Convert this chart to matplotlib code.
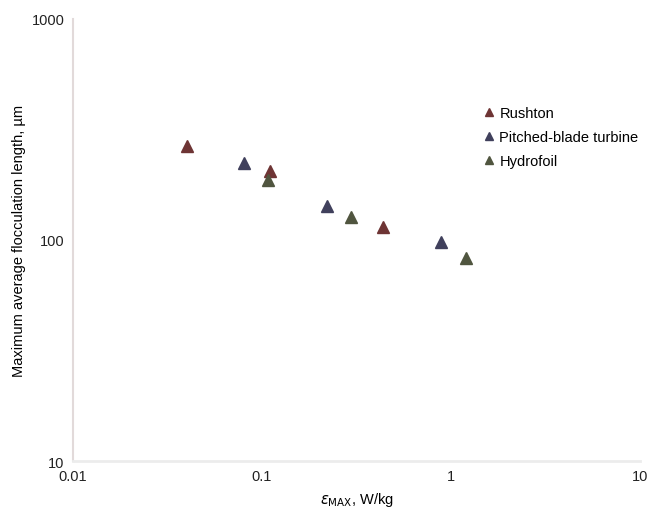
import matplotlib
matplotlib.use("Agg")
import matplotlib.pyplot as plt

plt.rcParams['font.family'] = ['Liberation Sans Narrow', 'Liberation Sans', 'DejaVu Sans']
plt.rcParams['font.size'] = 10

# values
rushton_x = [0.040, 0.110, 0.436]
rushton_y = [267, 205, 114]
pbt_x = [0.080, 0.222, 0.885]
pbt_y = [222, 143, 98]
hydro_x = [0.107, 0.296, 1.20]
hydro_y = [186, 127, 83]

labels = ['Rushton', 'Pitched-blade turbine', 'Hydrofoil']
colors = ['#6e3434', '#40405c', '#50553f']

fig, ax = plt.subplots()
fig.set_size_inches(6.49, 5.10)
fig.subplots_adjust(left=0.1125, right=0.986, top=0.961, bottom=0.094)

for xs, ys, lab, col in zip([rushton_x, pbt_x, hydro_x],
                            [rushton_y, pbt_y, hydro_y], labels, colors):
    ax.plot(xs, ys, linestyle='none', marker='^', markersize=8,
            color=col, label=lab)

ax.set_xscale('log')
ax.set_yscale('log')
ax.set_xlim(0.01, 10)
ax.set_ylim(10, 1000)
ax.set_xticks([0.01, 0.1, 1, 10])
ax.set_xticklabels(['0.01', '0.1', '1', '10'])
ax.set_yticks([10, 100, 1000])
ax.set_yticklabels(['10', '100', '1000'])
ax.minorticks_off()
ax.tick_params(length=0, pad=6, labelsize=10.5, colors='#222222')

for s in ['top', 'right']:
    ax.spines[s].set_visible(False)
ax.spines['left'].set_color('#e2dada')
ax.spines['left'].set_linewidth(1.5)
ax.spines['bottom'].set_color('#ececec')
ax.spines['bottom'].set_linewidth(2)

ax.set_xlabel(r'$\varepsilon_{\mathrm{MAX}}$, W/kg', fontsize=10.5, labelpad=5)
ax.set_ylabel('Maximum average flocculation length, µm', fontsize=10.5, labelpad=4)

leg = ax.legend(loc='upper left', bbox_to_anchor=(0.703, 0.833), frameon=False,
                markerscale=0.7, handlelength=0.6, handletextpad=0.4,
                labelspacing=0.7, fontsize=10.5)

fig.savefig('out.png', dpi=100)
